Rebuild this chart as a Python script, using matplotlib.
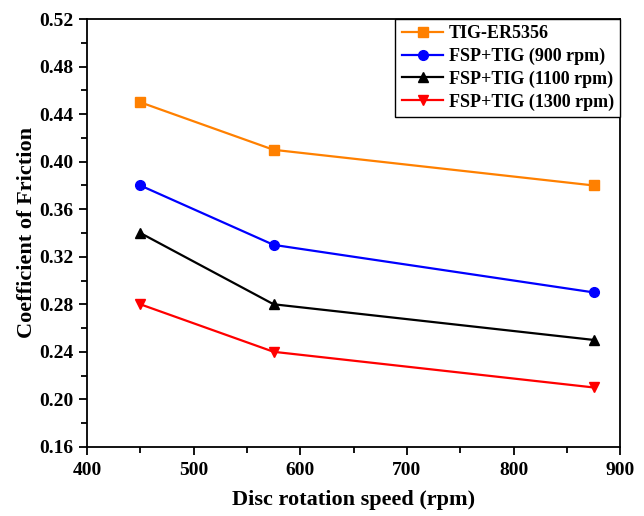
import matplotlib.pyplot as plt
from matplotlib.ticker import MultipleLocator

speed = [450, 575, 875]
tig_er5356 = [0.45, 0.41, 0.38]
fsp_900 = [0.38, 0.33, 0.29]
fsp_1100 = [0.34, 0.28, 0.25]
fsp_1300 = [0.28, 0.24, 0.21]

plt.rcParams['font.family'] = ['Liberation Serif', 'DejaVu Serif']
plt.rcParams['font.weight'] = 'bold'

fig = plt.figure(figsize=(6.44, 5.16), dpi=100)
ax = fig.add_axes([0.135, 0.134, 0.828, 0.829])

ax.plot(speed, tig_er5356, color='#ff8000', marker='s', ms=7, lw=1.6, label='TIG-ER5356')
ax.plot(speed, fsp_900, color='#0000ff', marker='o', ms=7, lw=1.6, label='FSP+TIG (900 rpm)')
ax.plot(speed, fsp_1100, color='black', marker='^', ms=7.5, lw=1.6, label='FSP+TIG (1100 rpm)')
ax.plot(speed, fsp_1300, color='red', marker='v', ms=7.5, lw=1.6, label='FSP+TIG (1300 rpm)')

ax.set_xlim(400, 900)
ax.set_ylim(0.16, 0.52)
ax.xaxis.set_major_locator(MultipleLocator(100))
ax.xaxis.set_minor_locator(MultipleLocator(50))
ax.yaxis.set_major_locator(MultipleLocator(0.04))
ax.yaxis.set_minor_locator(MultipleLocator(0.02))
ax.yaxis.set_major_formatter(plt.FuncFormatter(lambda v, p: f"{v:.2f}"))
ax.tick_params(which='both', direction='out', width=1.3, labelsize=14)
ax.tick_params(which='major', length=6)
ax.tick_params(which='minor', length=4)
ax.tick_params(axis='x', pad=5)
for s in ax.spines.values():
    s.set_linewidth(1.3)

ax.set_xlabel('Disc rotation speed (rpm)', fontsize=16, fontweight='bold', labelpad=8)
ax.set_ylabel('Coefficient of Friction', fontsize=16, fontweight='bold', labelpad=2)

leg = ax.legend(loc='upper right', fontsize=13, borderaxespad=0, fancybox=False,
                edgecolor='black', framealpha=1, handlelength=2.3,
                handletextpad=0.3, labelspacing=0.3, borderpad=0.35)
leg.get_frame().set_linewidth(1.0)

fig.savefig('out.png', dpi=100)
